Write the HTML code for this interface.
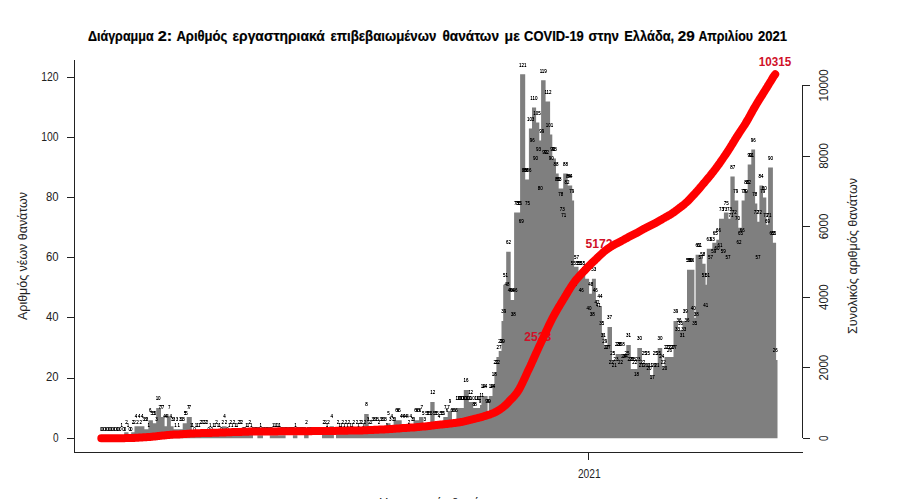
<!DOCTYPE html>
<html><head><meta charset="utf-8"><title>chart</title>
<style>html,body{margin:0;padding:0;background:#fff;}body{width:897px;height:499px;overflow:hidden;}svg{display:block;font-family:"Liberation Sans",sans-serif;}</style></head><body>
<svg width="897" height="499" viewBox="0 0 897 499">
<rect width="897" height="499" fill="#fff"/>
<g font-size="14.2" font-weight="bold" fill="#000" stroke="#000" stroke-width="0.2">
<text x="87.9" y="41.0" textLength="65.8" lengthAdjust="spacingAndGlyphs">Διάγραμμα</text>
<text x="157.7" y="41.0" textLength="14.5" lengthAdjust="spacingAndGlyphs">2:</text>
<text x="176.4" y="41.0" textLength="51.0" lengthAdjust="spacingAndGlyphs">Αριθμός</text>
<text x="232.5" y="41.0" textLength="92.3" lengthAdjust="spacingAndGlyphs">εργαστηριακά</text>
<text x="330.5" y="41.0" textLength="105.8" lengthAdjust="spacingAndGlyphs">επιβεβαιωμένων</text>
<text x="442.4" y="41.0" textLength="56.6" lengthAdjust="spacingAndGlyphs">θανάτων</text>
<text x="504.6" y="41.0" textLength="15.2" lengthAdjust="spacingAndGlyphs">με</text>
<text x="524.1" y="41.0" textLength="59.7" lengthAdjust="spacingAndGlyphs">COVID-19</text>
<text x="588.4" y="41.0" textLength="30.5" lengthAdjust="spacingAndGlyphs">στην</text>
<text x="624.3" y="41.0" textLength="49.9" lengthAdjust="spacingAndGlyphs">Ελλάδα,</text>
<text x="677.7" y="41.0" textLength="17.0" lengthAdjust="spacingAndGlyphs">29</text>
<text x="698.4" y="41.0" textLength="54.5" lengthAdjust="spacingAndGlyphs">Απριλίου</text>
<text x="758.0" y="41.0" textLength="29.1" lengthAdjust="spacingAndGlyphs">2021</text>
</g>
<polygon fill="#7f7f7f" points="99.0,438.2 99.0,438.2 124.2,438.2 124.2,432.2 128.5,432.2 128.5,435.2 131.2,435.2 131.2,432.2 134.5,432.2 134.5,426.2 144.4,426.2 144.4,429.2 148.4,429.2 148.4,420.2 152.9,420.2 152.9,423.2 156.2,423.2 156.2,408.1 161.0,408.1 161.0,417.1 164.6,417.1 164.6,426.2 166.9,426.2 166.9,417.1 170.8,417.1 170.8,426.2 173.6,426.2 173.6,429.2 182.7,429.2 182.7,423.2 186.7,423.2 186.7,417.1 191.8,417.1 191.8,432.2 222.0,432.2 222.0,426.2 226.6,426.2 226.6,432.2 253.0,432.2 253.0,438.2 257.4,438.2 257.4,435.2 263.0,435.2 263.0,438.2 269.8,438.2 269.8,435.2 285.6,435.2 285.6,438.2 292.9,438.2 292.9,435.2 297.4,435.2 297.4,438.2 304.1,438.2 304.1,432.2 308.6,432.2 308.6,438.2 322.0,438.2 322.0,432.2 329.4,432.2 329.4,426.2 333.9,426.2 333.9,438.2 336.0,438.2 336.0,432.2 364.2,432.2 364.2,414.1 368.7,414.1 368.7,429.2 386.0,429.2 386.0,423.2 390.5,423.2 390.5,426.2 393.6,426.2 393.6,420.2 401.7,420.2 401.7,426.2 413.5,426.2 413.5,420.2 419.0,420.2 419.0,417.1 423.4,417.1 423.4,423.2 428.4,423.2 428.4,423.2 430.3,423.2 430.3,402.1 434.6,402.1 434.6,423.2 439.6,423.2 439.6,423.2 443.3,423.2 443.3,417.1 447.7,417.1 447.7,411.1 452.0,411.1 452.0,420.2 456.4,420.2 456.4,408.1 463.8,408.1 463.8,390.1 468.8,390.1 468.8,402.1 473.2,402.1 473.2,408.1 480.0,408.1 480.0,405.1 481.4,405.1 481.4,396.1 487.6,396.1 487.6,411.1 488.8,411.1 488.8,396.1 492.5,396.1 492.5,384.1 494.4,384.1 494.4,372.0 496.4,372.0 496.4,357.0 498.7,357.0 498.7,351.0 501.5,351.0 501.5,320.9 503.2,320.9 503.2,284.8 506.2,284.8 506.2,251.7 510.7,251.7 510.7,299.9 514.1,299.9 514.1,212.6 520.1,212.6 520.1,74.3 525.2,74.3 525.2,179.6 528.9,179.6 528.9,128.4 532.0,128.4 532.0,107.4 536.1,107.4 536.1,122.4 539.3,122.4 539.3,140.5 541.1,140.5 541.1,80.3 545.6,80.3 545.6,101.4 550.1,101.4 550.1,134.4 552.3,134.4 552.3,158.5 556.0,158.5 556.0,173.5 558.7,173.5 558.7,188.6 563.2,188.6 563.2,173.5 567.7,173.5 567.7,185.6 572.2,185.6 572.2,200.6 574.1,200.6 574.1,266.8 578.5,266.8 578.5,272.8 585.2,272.8 585.2,278.8 589.1,278.8 589.1,293.8 591.9,293.8 591.9,278.8 595.9,278.8 595.9,299.9 597.4,299.9 597.4,305.9 601.9,305.9 601.9,332.9 604.1,332.9 604.1,345.0 607.5,345.0 607.5,326.9 612.0,326.9 612.0,360.0 615.6,360.0 615.6,354.0 621.8,354.0 621.8,354.0 626.3,354.0 626.3,345.0 630.8,345.0 630.8,369.0 637.3,369.0 637.3,348.0 642.0,348.0 642.0,363.0 650.0,363.0 650.0,375.0 653.2,375.0 653.2,363.0 657.7,363.0 657.7,348.0 662.2,348.0 662.2,366.0 664.5,366.0 664.5,357.0 673.5,357.0 673.5,320.9 678.0,320.9 678.0,329.9 682.6,329.9 682.6,320.9 687.0,320.9 687.0,269.8 694.4,269.8 694.4,317.9 695.6,317.9 695.6,254.7 702.4,254.7 702.4,263.8 705.6,263.8 705.6,284.8 706.8,284.8 706.8,248.7 712.3,248.7 712.3,242.7 716.3,242.7 716.3,239.7 719.0,239.7 719.0,218.7 723.9,218.7 723.9,212.6 728.4,212.6 728.4,218.7 730.4,218.7 730.4,176.6 734.7,176.6 734.7,200.6 738.3,200.6 738.3,227.7 741.6,227.7 741.6,200.6 744.6,200.6 744.6,191.6 747.7,191.6 747.7,164.5 751.3,164.5 751.3,149.5 755.1,149.5 755.1,203.6 757.3,203.6 757.3,221.7 759.4,221.7 759.4,185.6 763.0,185.6 763.0,197.6 766.3,197.6 766.3,224.7 768.1,224.7 768.1,167.5 772.9,167.5 772.9,242.7 776.1,242.7 776.1,360.0 777.5,360.0 777.5,438.2"/>
<defs><filter id="dk" x="0" y="0" width="1100" height="499" filterUnits="userSpaceOnUse" color-interpolation-filters="sRGB"><feComponentTransfer><feFuncA type="linear" slope="1.5" intercept="0"/></feComponentTransfer></filter></defs>
<g font-size="5.1" text-anchor="middle" fill="#000" filter="url(#dk)" transform="scale(0.88 1)">
<text x="115.1" y="430.83">0</text>
<text x="116.9" y="430.83">0</text>
<text x="118.7" y="430.83">0</text>
<text x="120.5" y="430.83">0</text>
<text x="122.3" y="430.83">0</text>
<text x="124.1" y="430.83">0</text>
<text x="125.9" y="430.83">0</text>
<text x="127.7" y="430.83">0</text>
<text x="129.5" y="430.83">0</text>
<text x="131.3" y="430.83">0</text>
<text x="133.1" y="430.83">0</text>
<text x="134.8" y="430.83">0</text>
<text x="136.6" y="430.83">0</text>
<text x="138.4" y="427.42">1</text>
<text x="140.2" y="430.83">0</text>
<text x="142.0" y="430.83">0</text>
<text x="143.8" y="424.42">2</text>
<text x="145.6" y="427.42">1</text>
<text x="147.4" y="430.83">0</text>
<text x="149.2" y="430.83">0</text>
<text x="151.0" y="424.42">2</text>
<text x="152.8" y="424.42">2</text>
<text x="154.6" y="418.40">4</text>
<text x="156.4" y="424.42">2</text>
<text x="158.2" y="418.40">4</text>
<text x="160.0" y="424.42">2</text>
<text x="161.7" y="418.40">4</text>
<text x="163.5" y="421.41">3</text>
<text x="165.3" y="421.41">3</text>
<text x="167.1" y="421.41">3</text>
<text x="168.9" y="427.42">1</text>
<text x="170.7" y="412.39">6</text>
<text x="172.5" y="415.39">5</text>
<text x="174.3" y="415.39">5</text>
<text x="176.1" y="415.39">5</text>
<text x="177.9" y="421.41">3</text>
<text x="179.7" y="400.36">10</text>
<text x="181.5" y="409.38">7</text>
<text x="183.3" y="409.38">7</text>
<text x="185.1" y="409.38">7</text>
<text x="186.9" y="418.40">4</text>
<text x="188.7" y="418.40">4</text>
<text x="190.4" y="418.40">4</text>
<text x="192.2" y="409.38">7</text>
<text x="194.0" y="418.40">4</text>
<text x="195.8" y="421.41">3</text>
<text x="197.6" y="421.41">3</text>
<text x="199.4" y="427.42">1</text>
<text x="201.2" y="421.41">3</text>
<text x="203.0" y="427.42">1</text>
<text x="204.8" y="421.41">3</text>
<text x="206.6" y="421.41">3</text>
<text x="208.4" y="421.41">3</text>
<text x="210.2" y="415.39">5</text>
<text x="212.0" y="415.39">5</text>
<text x="213.8" y="409.38">7</text>
<text x="215.6" y="409.38">7</text>
<text x="217.4" y="427.42">1</text>
<text x="219.1" y="427.42">1</text>
<text x="220.9" y="430.83">0</text>
<text x="222.7" y="427.42">1</text>
<text x="224.5" y="427.42">1</text>
<text x="226.3" y="427.42">1</text>
<text x="228.1" y="424.42">2</text>
<text x="229.9" y="424.42">2</text>
<text x="231.7" y="424.42">2</text>
<text x="233.5" y="424.42">2</text>
<text x="235.3" y="424.42">2</text>
<text x="237.1" y="430.83">0</text>
<text x="238.9" y="427.42">1</text>
<text x="240.7" y="430.83">0</text>
<text x="242.5" y="427.42">1</text>
<text x="244.3" y="427.42">1</text>
<text x="246.1" y="424.42">2</text>
<text x="247.8" y="427.42">1</text>
<text x="249.6" y="427.42">1</text>
<text x="251.4" y="430.83">0</text>
<text x="253.2" y="424.42">2</text>
<text x="255.0" y="418.40">4</text>
<text x="256.8" y="424.42">2</text>
<text x="258.6" y="430.83">0</text>
<text x="260.4" y="427.42">1</text>
<text x="262.2" y="424.42">2</text>
<text x="264.0" y="427.42">1</text>
<text x="265.8" y="424.42">2</text>
<text x="267.6" y="427.42">1</text>
<text x="269.4" y="427.42">1</text>
<text x="271.2" y="424.42">2</text>
<text x="273.0" y="424.42">2</text>
<text x="274.8" y="424.42">2</text>
<text x="276.5" y="430.83">0</text>
<text x="278.3" y="430.83">0</text>
<text x="280.1" y="427.42">1</text>
<text x="281.9" y="427.42">1</text>
<text x="283.7" y="424.42">2</text>
<text x="285.5" y="427.42">1</text>
<text x="287.3" y="430.83">0</text>
<text x="289.1" y="430.83">0</text>
<text x="290.9" y="430.83">0</text>
<text x="292.7" y="430.83">0</text>
<text x="294.5" y="430.83">0</text>
<text x="296.3" y="427.42">1</text>
<text x="298.1" y="430.83">0</text>
<text x="299.9" y="430.83">0</text>
<text x="301.7" y="430.83">0</text>
<text x="303.5" y="430.83">0</text>
<text x="305.2" y="430.83">0</text>
<text x="307.0" y="430.83">0</text>
<text x="308.8" y="430.83">0</text>
<text x="310.6" y="427.42">1</text>
<text x="312.4" y="427.42">1</text>
<text x="314.2" y="427.42">1</text>
<text x="316.0" y="427.42">1</text>
<text x="317.8" y="427.42">1</text>
<text x="319.6" y="430.83">0</text>
<text x="321.4" y="430.83">0</text>
<text x="323.2" y="430.83">0</text>
<text x="325.0" y="430.83">0</text>
<text x="326.8" y="430.83">0</text>
<text x="328.6" y="430.83">0</text>
<text x="330.4" y="430.83">0</text>
<text x="332.2" y="430.83">0</text>
<text x="333.9" y="430.83">0</text>
<text x="335.7" y="427.42">1</text>
<text x="337.5" y="430.83">0</text>
<text x="339.3" y="430.83">0</text>
<text x="341.1" y="430.83">0</text>
<text x="342.9" y="430.83">0</text>
<text x="344.7" y="430.83">0</text>
<text x="346.5" y="430.83">0</text>
<text x="348.3" y="424.42">2</text>
<text x="350.1" y="430.83">0</text>
<text x="351.9" y="430.83">0</text>
<text x="353.7" y="430.83">0</text>
<text x="355.5" y="430.83">0</text>
<text x="357.3" y="430.83">0</text>
<text x="359.1" y="430.83">0</text>
<text x="360.9" y="430.83">0</text>
<text x="362.6" y="430.83">0</text>
<text x="364.4" y="430.83">0</text>
<text x="366.2" y="430.83">0</text>
<text x="368.0" y="424.42">2</text>
<text x="369.8" y="424.42">2</text>
<text x="371.6" y="427.42">1</text>
<text x="373.4" y="424.42">2</text>
<text x="375.2" y="430.83">0</text>
<text x="377.0" y="418.40">4</text>
<text x="378.8" y="430.83">0</text>
<text x="380.6" y="430.83">0</text>
<text x="382.4" y="430.83">0</text>
<text x="384.2" y="424.42">2</text>
<text x="386.0" y="427.42">1</text>
<text x="387.8" y="427.42">1</text>
<text x="389.5" y="424.42">2</text>
<text x="391.3" y="427.42">1</text>
<text x="393.1" y="424.42">2</text>
<text x="394.9" y="427.42">1</text>
<text x="396.7" y="424.42">2</text>
<text x="398.5" y="427.42">1</text>
<text x="400.3" y="427.42">1</text>
<text x="402.1" y="424.42">2</text>
<text x="403.9" y="430.83">0</text>
<text x="405.7" y="424.42">2</text>
<text x="407.5" y="427.42">1</text>
<text x="409.3" y="424.42">2</text>
<text x="411.1" y="424.42">2</text>
<text x="412.9" y="427.42">1</text>
<text x="414.7" y="424.42">2</text>
<text x="416.5" y="406.37">8</text>
<text x="418.2" y="421.41">3</text>
<text x="420.0" y="424.42">2</text>
<text x="421.8" y="424.42">2</text>
<text x="423.6" y="421.41">3</text>
<text x="425.4" y="421.41">3</text>
<text x="427.2" y="421.41">3</text>
<text x="429.0" y="421.41">3</text>
<text x="430.8" y="424.42">2</text>
<text x="432.6" y="421.41">3</text>
<text x="434.4" y="421.41">3</text>
<text x="436.2" y="421.41">3</text>
<text x="438.0" y="421.41">3</text>
<text x="439.8" y="427.42">1</text>
<text x="441.6" y="415.39">5</text>
<text x="443.4" y="421.41">3</text>
<text x="445.2" y="418.40">4</text>
<text x="446.9" y="421.41">3</text>
<text x="448.7" y="421.41">3</text>
<text x="450.5" y="412.39">6</text>
<text x="452.3" y="412.39">6</text>
<text x="454.1" y="412.39">6</text>
<text x="455.9" y="418.40">4</text>
<text x="457.7" y="418.40">4</text>
<text x="459.5" y="418.40">4</text>
<text x="461.3" y="418.40">4</text>
<text x="463.1" y="418.40">4</text>
<text x="464.9" y="424.42">2</text>
<text x="466.7" y="418.40">4</text>
<text x="468.5" y="421.41">3</text>
<text x="470.3" y="421.41">3</text>
<text x="472.1" y="412.39">6</text>
<text x="473.9" y="412.39">6</text>
<text x="475.6" y="412.39">6</text>
<text x="477.4" y="412.39">6</text>
<text x="479.2" y="409.38">7</text>
<text x="481.0" y="415.39">5</text>
<text x="482.8" y="421.41">3</text>
<text x="484.6" y="415.39">5</text>
<text x="486.4" y="415.39">5</text>
<text x="488.2" y="415.39">5</text>
<text x="490.0" y="415.39">5</text>
<text x="491.8" y="394.34">12</text>
<text x="493.6" y="415.39">5</text>
<text x="495.4" y="415.39">5</text>
<text x="497.2" y="415.39">5</text>
<text x="499.0" y="418.40">4</text>
<text x="500.8" y="415.39">5</text>
<text x="502.6" y="415.39">5</text>
<text x="504.3" y="415.39">5</text>
<text x="506.1" y="409.38">7</text>
<text x="507.9" y="412.39">6</text>
<text x="509.7" y="409.38">7</text>
<text x="511.5" y="403.36">9</text>
<text x="513.3" y="412.39">6</text>
<text x="515.1" y="412.39">6</text>
<text x="516.9" y="412.39">6</text>
<text x="518.7" y="412.39">6</text>
<text x="520.5" y="400.36">10</text>
<text x="522.3" y="400.36">10</text>
<text x="524.1" y="400.36">10</text>
<text x="525.9" y="400.36">10</text>
<text x="527.7" y="400.36">10</text>
<text x="529.5" y="382.31">16</text>
<text x="531.3" y="400.36">10</text>
<text x="533.0" y="400.36">10</text>
<text x="534.8" y="394.34">12</text>
<text x="536.6" y="400.36">10</text>
<text x="538.4" y="406.37">8</text>
<text x="540.2" y="406.37">8</text>
<text x="542.0" y="400.36">10</text>
<text x="543.8" y="400.36">10</text>
<text x="545.6" y="403.36">9</text>
<text x="547.4" y="397.35">11</text>
<text x="549.2" y="388.33">14</text>
<text x="551.0" y="388.33">14</text>
<text x="552.8" y="403.36">9</text>
<text x="554.6" y="403.36">9</text>
<text x="556.4" y="403.36">9</text>
<text x="558.2" y="388.33">14</text>
<text x="560.0" y="388.33">14</text>
<text x="561.7" y="376.30">18</text>
<text x="563.5" y="364.27">22</text>
<text x="565.3" y="364.27">22</text>
<text x="567.1" y="349.23">27</text>
<text x="568.9" y="343.21">29</text>
<text x="570.7" y="343.21">29</text>
<text x="572.5" y="313.14">39</text>
<text x="574.3" y="277.05">51</text>
<text x="576.1" y="286.07">48</text>
<text x="577.9" y="243.97">62</text>
<text x="579.7" y="292.09">46</text>
<text x="581.5" y="292.09">46</text>
<text x="583.3" y="316.15">38</text>
<text x="585.1" y="292.09">46</text>
<text x="586.9" y="204.87">75</text>
<text x="588.6" y="204.87">75</text>
<text x="590.4" y="204.87">75</text>
<text x="592.2" y="222.92">69</text>
<text x="594.0" y="66.53">121</text>
<text x="595.8" y="171.79">86</text>
<text x="597.6" y="171.79">86</text>
<text x="599.4" y="204.87">75</text>
<text x="601.2" y="171.79">86</text>
<text x="603.0" y="120.66">103</text>
<text x="604.8" y="141.72">96</text>
<text x="606.6" y="99.61">110</text>
<text x="608.4" y="159.76">90</text>
<text x="610.2" y="114.65">105</text>
<text x="612.0" y="150.74">93</text>
<text x="613.8" y="189.83">80</text>
<text x="615.6" y="132.69">99</text>
<text x="617.3" y="72.54">119</text>
<text x="619.1" y="153.75">92</text>
<text x="620.9" y="153.75">92</text>
<text x="622.7" y="93.60">112</text>
<text x="624.5" y="126.68">101</text>
<text x="626.3" y="159.76">90</text>
<text x="628.1" y="150.74">93</text>
<text x="629.9" y="150.74">93</text>
<text x="631.7" y="165.78">88</text>
<text x="633.5" y="180.81">83</text>
<text x="635.3" y="180.81">83</text>
<text x="637.1" y="195.85">78</text>
<text x="638.9" y="210.89">73</text>
<text x="640.7" y="216.90">71</text>
<text x="642.5" y="165.78">88</text>
<text x="644.3" y="183.82">82</text>
<text x="646.0" y="177.81">84</text>
<text x="647.8" y="177.81">84</text>
<text x="649.6" y="192.84">79</text>
<text x="651.4" y="265.02">55</text>
<text x="653.2" y="286.07">48</text>
<text x="655.0" y="259.01">57</text>
<text x="656.8" y="265.02">55</text>
<text x="658.6" y="265.02">55</text>
<text x="660.4" y="292.09">46</text>
<text x="662.2" y="265.02">55</text>
<text x="664.0" y="271.04">53</text>
<text x="665.8" y="271.04">53</text>
<text x="667.6" y="271.04">53</text>
<text x="669.4" y="310.13">40</text>
<text x="671.2" y="286.07">48</text>
<text x="673.0" y="316.15">38</text>
<text x="674.7" y="271.04">53</text>
<text x="676.5" y="292.09">46</text>
<text x="678.3" y="304.12">42</text>
<text x="680.1" y="307.13">41</text>
<text x="681.9" y="298.10">44</text>
<text x="683.7" y="325.17">35</text>
<text x="685.5" y="337.20">31</text>
<text x="687.3" y="343.21">29</text>
<text x="689.1" y="349.23">27</text>
<text x="690.9" y="349.23">27</text>
<text x="692.7" y="319.15">37</text>
<text x="694.5" y="364.27">22</text>
<text x="696.3" y="355.24">25</text>
<text x="698.1" y="367.27">21</text>
<text x="699.9" y="361.26">23</text>
<text x="701.7" y="346.22">28</text>
<text x="703.4" y="346.22">28</text>
<text x="705.2" y="364.27">22</text>
<text x="707.0" y="346.22">28</text>
<text x="708.8" y="358.25">24</text>
<text x="710.6" y="358.25">24</text>
<text x="712.4" y="355.24">25</text>
<text x="714.2" y="337.20">31</text>
<text x="716.0" y="361.26">23</text>
<text x="717.8" y="361.26">23</text>
<text x="719.6" y="361.26">23</text>
<text x="721.4" y="364.27">22</text>
<text x="723.2" y="376.30">18</text>
<text x="725.0" y="361.26">23</text>
<text x="726.8" y="340.21">30</text>
<text x="728.6" y="367.27">21</text>
<text x="730.4" y="364.27">22</text>
<text x="732.1" y="355.24">25</text>
<text x="733.9" y="367.27">21</text>
<text x="735.7" y="355.24">25</text>
<text x="737.5" y="370.28">20</text>
<text x="739.3" y="367.27">21</text>
<text x="741.1" y="379.30">17</text>
<text x="742.9" y="367.27">21</text>
<text x="744.7" y="355.24">25</text>
<text x="746.5" y="367.27">21</text>
<text x="748.3" y="355.24">25</text>
<text x="750.1" y="340.21">30</text>
<text x="751.9" y="358.25">24</text>
<text x="753.7" y="364.27">22</text>
<text x="755.5" y="370.28">20</text>
<text x="757.3" y="349.23">27</text>
<text x="759.1" y="349.23">27</text>
<text x="760.8" y="352.24">26</text>
<text x="762.6" y="349.23">27</text>
<text x="764.4" y="349.23">27</text>
<text x="766.2" y="349.23">27</text>
<text x="768.0" y="313.14">39</text>
<text x="769.8" y="331.18">33</text>
<text x="771.6" y="322.16">36</text>
<text x="773.4" y="325.17">35</text>
<text x="775.2" y="337.20">31</text>
<text x="777.0" y="331.18">33</text>
<text x="778.8" y="313.14">39</text>
<text x="780.6" y="322.16">36</text>
<text x="782.4" y="262.01">56</text>
<text x="784.2" y="262.01">56</text>
<text x="786.0" y="262.01">56</text>
<text x="787.8" y="310.13">40</text>
<text x="789.5" y="325.17">35</text>
<text x="791.3" y="316.15">38</text>
<text x="793.1" y="246.98">61</text>
<text x="794.9" y="246.98">61</text>
<text x="796.7" y="259.01">57</text>
<text x="798.5" y="256.00">58</text>
<text x="800.3" y="277.05">51</text>
<text x="802.1" y="307.13">41</text>
<text x="803.9" y="277.05">51</text>
<text x="805.7" y="240.96">63</text>
<text x="807.5" y="259.01">57</text>
<text x="809.3" y="240.96">63</text>
<text x="811.1" y="252.99">59</text>
<text x="812.9" y="234.95">65</text>
<text x="814.7" y="249.98">60</text>
<text x="816.4" y="231.94">66</text>
<text x="818.2" y="246.98">61</text>
<text x="820.0" y="210.89">73</text>
<text x="821.8" y="252.99">59</text>
<text x="823.6" y="210.89">73</text>
<text x="825.4" y="204.87">75</text>
<text x="827.2" y="259.01">57</text>
<text x="829.0" y="210.89">73</text>
<text x="830.8" y="216.90">71</text>
<text x="832.6" y="168.78">87</text>
<text x="834.4" y="213.89">72</text>
<text x="836.2" y="192.84">79</text>
<text x="838.0" y="219.91">70</text>
<text x="839.8" y="243.97">62</text>
<text x="841.6" y="234.95">65</text>
<text x="843.4" y="231.94">66</text>
<text x="845.1" y="192.84">79</text>
<text x="846.9" y="192.84">79</text>
<text x="848.7" y="183.82">82</text>
<text x="850.5" y="183.82">82</text>
<text x="852.3" y="156.75">91</text>
<text x="854.1" y="156.75">91</text>
<text x="855.9" y="141.72">96</text>
<text x="857.7" y="195.85">78</text>
<text x="859.5" y="213.89">72</text>
<text x="861.3" y="259.01">57</text>
<text x="863.1" y="213.89">72</text>
<text x="864.9" y="177.81">84</text>
<text x="866.7" y="192.84">79</text>
<text x="868.5" y="189.83">80</text>
<text x="870.3" y="216.90">71</text>
<text x="872.1" y="222.92">69</text>
<text x="873.8" y="216.90">71</text>
<text x="875.6" y="159.76">90</text>
<text x="877.4" y="234.95">65</text>
<text x="879.2" y="234.95">65</text>
<text x="881.0" y="352.24">26</text>
</g>
<g font-size="12.8" font-weight="bold" fill="#d01028" text-anchor="middle">
<text x="537.8" y="341.1" textLength="27.0" lengthAdjust="spacingAndGlyphs">2523</text>
<text x="599.0" y="248.1" textLength="27.0" lengthAdjust="spacingAndGlyphs">5172</text>
<text x="775.0" y="66.0" textLength="32.4" lengthAdjust="spacingAndGlyphs">10315</text>
</g>
<polyline fill="none" stroke="#ff0000" stroke-width="8" stroke-linecap="round" stroke-linejoin="round" points="101.3,438.2 102.3,438.2 103.3,438.2 104.3,438.2 105.3,438.2 106.3,438.2 107.3,438.2 108.3,438.2 109.3,438.2 110.3,438.2 111.3,438.2 112.3,438.2 113.3,438.2 114.3,438.2 115.3,438.2 116.3,438.2 117.3,438.2 118.3,438.2 119.3,438.2 120.3,438.2 121.3,438.2 122.3,438.2 123.3,438.2 124.3,438.2 125.3,438.1 126.3,438.1 127.3,438.1 128.3,438.1 129.3,438.1 130.3,438.0 131.3,438.0 132.3,438.0 133.3,437.9 134.3,437.9 135.3,437.8 136.3,437.8 137.3,437.7 138.3,437.7 139.3,437.6 140.3,437.5 141.3,437.5 142.3,437.4 143.3,437.3 144.3,437.3 145.3,437.2 146.3,437.2 147.3,437.1 148.3,437.0 149.3,436.9 150.3,436.9 151.3,436.8 152.3,436.7 153.3,436.6 154.3,436.5 155.3,436.4 156.3,436.3 157.3,436.2 158.3,436.0 159.3,435.9 160.3,435.8 161.3,435.7 162.3,435.6 163.3,435.5 164.3,435.4 165.3,435.3 166.3,435.2 167.3,435.1 168.3,435.0 169.3,434.9 170.3,434.8 171.3,434.8 172.3,434.7 173.3,434.6 174.3,434.6 175.3,434.5 176.3,434.5 177.3,434.4 178.3,434.4 179.3,434.4 180.3,434.3 181.3,434.3 182.3,434.2 183.3,434.1 184.3,434.1 185.3,434.0 186.3,433.9 187.3,433.8 188.3,433.8 189.3,433.7 190.3,433.6 191.3,433.5 192.3,433.5 193.3,433.4 194.3,433.4 195.3,433.3 196.3,433.3 197.3,433.3 198.3,433.2 199.3,433.2 200.3,433.2 201.3,433.1 202.3,433.1 203.3,433.1 204.3,433.1 205.3,433.0 206.3,433.0 207.3,433.0 208.3,432.9 209.3,432.9 210.3,432.9 211.3,432.9 212.3,432.8 213.3,432.8 214.3,432.8 215.3,432.7 216.3,432.7 217.3,432.7 218.3,432.7 219.3,432.6 220.3,432.6 221.3,432.6 222.3,432.5 223.3,432.5 224.3,432.4 225.3,432.4 226.3,432.3 227.3,432.3 228.3,432.2 229.3,432.2 230.3,432.2 231.3,432.2 232.3,432.1 233.3,432.1 234.3,432.1 235.3,432.0 236.3,432.0 237.3,432.0 238.3,432.0 239.3,431.9 240.3,431.9 241.3,431.9 242.3,431.8 243.3,431.8 244.3,431.8 245.3,431.8 246.3,431.7 247.3,431.7 248.3,431.7 249.3,431.6 250.3,431.6 251.3,431.6 252.3,431.6 253.3,431.6 254.3,431.6 255.3,431.5 256.3,431.5 257.3,431.5 258.3,431.5 259.3,431.5 260.3,431.5 261.3,431.5 262.3,431.5 263.3,431.5 264.3,431.5 265.3,431.5 266.3,431.5 267.3,431.5 268.3,431.5 269.3,431.5 270.3,431.4 271.3,431.4 272.3,431.4 273.3,431.4 274.3,431.4 275.3,431.4 276.3,431.4 277.3,431.4 278.3,431.3 279.3,431.3 280.3,431.3 281.3,431.3 282.3,431.3 283.3,431.3 284.3,431.3 285.3,431.3 286.3,431.3 287.3,431.3 288.3,431.3 289.3,431.3 290.3,431.3 291.3,431.3 292.3,431.3 293.3,431.3 294.3,431.3 295.3,431.2 296.3,431.2 297.3,431.2 298.3,431.2 299.3,431.2 300.3,431.2 301.3,431.2 302.3,431.2 303.3,431.2 304.3,431.2 305.3,431.2 306.3,431.2 307.3,431.2 308.3,431.2 309.3,431.2 310.3,431.2 311.3,431.2 312.3,431.1 313.3,431.1 314.3,431.1 315.3,431.1 316.3,431.1 317.3,431.1 318.3,431.1 319.3,431.1 320.3,431.1 321.3,431.1 322.3,431.1 323.3,431.1 324.3,431.1 325.3,431.1 326.3,431.1 327.3,431.0 328.3,431.0 329.3,431.0 330.3,431.0 331.3,430.9 332.3,430.9 333.3,430.9 334.3,430.9 335.3,430.9 336.3,430.8 337.3,430.8 338.3,430.8 339.3,430.8 340.3,430.8 341.3,430.8 342.3,430.7 343.3,430.7 344.3,430.7 345.3,430.7 346.3,430.7 347.3,430.7 348.3,430.6 349.3,430.6 350.3,430.6 351.3,430.6 352.3,430.6 353.3,430.6 354.3,430.5 355.3,430.5 356.3,430.5 357.3,430.5 358.3,430.5 359.3,430.4 360.3,430.4 361.3,430.4 362.3,430.4 363.3,430.3 364.3,430.3 365.3,430.3 366.3,430.2 367.3,430.2 368.3,430.1 369.3,430.1 370.3,430.0 371.3,430.0 372.3,429.9 373.3,429.9 374.3,429.8 375.3,429.8 376.3,429.7 377.3,429.7 378.3,429.7 379.3,429.6 380.3,429.6 381.3,429.5 382.3,429.5 383.3,429.4 384.3,429.4 385.3,429.3 386.3,429.3 387.3,429.2 388.3,429.2 389.3,429.1 390.3,429.0 391.3,429.0 392.3,428.9 393.3,428.8 394.3,428.7 395.3,428.7 396.3,428.6 397.3,428.5 398.3,428.4 399.3,428.4 400.3,428.3 401.3,428.2 402.3,428.1 403.3,428.1 404.3,428.0 405.3,427.9 406.3,427.9 407.3,427.8 408.3,427.8 409.3,427.7 410.3,427.6 411.3,427.6 412.3,427.5 413.3,427.4 414.3,427.4 415.3,427.3 416.3,427.2 417.3,427.1 418.3,427.0 419.3,426.9 420.3,426.8 421.3,426.7 422.3,426.6 423.3,426.5 424.3,426.4 425.3,426.4 426.3,426.3 427.3,426.2 428.3,426.1 429.3,426.0 430.3,425.8 431.3,425.7 432.3,425.5 433.3,425.4 434.3,425.3 435.3,425.1 436.3,425.0 437.3,424.9 438.3,424.8 439.3,424.7 440.3,424.6 441.3,424.5 442.3,424.4 443.3,424.3 444.3,424.2 445.3,424.1 446.3,424.0 447.3,423.9 448.3,423.8 449.3,423.6 450.3,423.5 451.3,423.4 452.3,423.3 453.3,423.1 454.3,423.0 455.3,422.9 456.3,422.8 457.3,422.6 458.3,422.5 459.3,422.3 460.3,422.2 461.3,422.0 462.3,421.8 463.3,421.6 464.3,421.4 465.3,421.2 466.3,420.9 467.3,420.7 468.3,420.4 469.3,420.2 470.3,419.9 471.3,419.7 472.3,419.4 473.3,419.2 474.3,418.9 475.3,418.6 476.3,418.4 477.3,418.2 478.3,417.9 479.3,417.6 480.3,417.4 481.3,417.1 482.3,416.8 483.3,416.5 484.3,416.2 485.3,415.9 486.3,415.6 487.3,415.2 488.3,414.9 489.3,414.6 490.3,414.3 491.3,413.9 492.3,413.5 493.3,413.1 494.3,412.7 495.3,412.2 496.3,411.6 497.3,411.1 498.3,410.5 499.3,409.9 500.3,409.2 501.3,408.5 502.3,407.8 503.3,407.0 504.3,406.2 505.3,405.3 506.3,404.3 507.3,403.3 508.3,402.3 509.3,401.2 510.3,400.2 511.3,399.2 512.3,398.2 513.3,397.1 514.3,396.0 515.3,394.8 516.3,393.6 517.3,392.3 518.3,390.8 519.3,389.1 520.3,387.3 521.3,385.3 522.3,383.2 523.3,381.1 524.3,379.0 525.3,376.8 526.3,374.6 527.3,372.4 528.3,370.3 529.3,368.2 530.3,366.1 531.3,364.0 532.3,361.7 533.3,359.5 534.3,357.2 535.3,355.0 536.3,352.7 537.3,350.6 538.3,348.4 539.3,346.2 540.3,344.1 541.3,341.9 542.3,339.8 543.3,337.6 544.3,335.4 545.3,333.2 546.3,331.0 547.3,328.8 548.3,326.6 549.3,324.5 550.3,322.5 551.3,320.5 552.3,318.5 553.3,316.6 554.3,314.8 555.3,313.0 556.3,311.2 557.3,309.5 558.3,307.8 559.3,306.1 560.3,304.5 561.3,302.8 562.3,301.2 563.3,299.5 564.3,297.9 565.3,296.2 566.3,294.6 567.3,292.9 568.3,291.2 569.3,289.6 570.3,288.0 571.3,286.4 572.3,284.9 573.3,283.5 574.3,282.1 575.3,280.8 576.3,279.5 577.3,278.4 578.3,277.2 579.3,276.1 580.3,275.1 581.3,274.0 582.3,272.9 583.3,271.9 584.3,270.8 585.3,269.8 586.3,268.7 587.3,267.7 588.3,266.7 589.3,265.7 590.3,264.7 591.3,263.7 592.3,262.7 593.3,261.7 594.3,260.8 595.3,259.8 596.3,258.9 597.3,257.9 598.3,256.9 599.3,256.0 600.3,255.0 601.3,254.1 602.3,253.2 603.3,252.3 604.3,251.4 605.3,250.6 606.3,249.8 607.3,249.1 608.3,248.4 609.3,247.7 610.3,247.1 611.3,246.5 612.3,245.9 613.3,245.3 614.3,244.7 615.3,244.2 616.3,243.7 617.3,243.2 618.3,242.6 619.3,242.1 620.3,241.6 621.3,241.1 622.3,240.5 623.3,240.0 624.3,239.4 625.3,238.9 626.3,238.3 627.3,237.8 628.3,237.2 629.3,236.7 630.3,236.2 631.3,235.7 632.3,235.2 633.3,234.7 634.3,234.2 635.3,233.7 636.3,233.2 637.3,232.6 638.3,232.1 639.3,231.5 640.3,230.9 641.3,230.4 642.3,229.8 643.3,229.2 644.3,228.7 645.3,228.1 646.3,227.6 647.3,227.1 648.3,226.6 649.3,226.1 650.3,225.6 651.3,225.1 652.3,224.6 653.3,224.1 654.3,223.6 655.3,223.1 656.3,222.6 657.3,222.0 658.3,221.4 659.3,220.9 660.3,220.3 661.3,219.7 662.3,219.1 663.3,218.5 664.3,218.0 665.3,217.4 666.3,216.8 667.3,216.3 668.3,215.7 669.3,215.2 670.3,214.6 671.3,214.0 672.3,213.3 673.3,212.6 674.3,211.9 675.3,211.2 676.3,210.4 677.3,209.7 678.3,208.9 679.3,208.1 680.3,207.4 681.3,206.6 682.3,205.9 683.3,205.1 684.3,204.3 685.3,203.4 686.3,202.5 687.3,201.6 688.3,200.6 689.3,199.6 690.3,198.5 691.3,197.4 692.3,196.4 693.3,195.3 694.3,194.2 695.3,193.1 696.3,192.0 697.3,190.9 698.3,189.7 699.3,188.6 700.3,187.4 701.3,186.2 702.3,185.0 703.3,183.8 704.3,182.7 705.3,181.5 706.3,180.3 707.3,179.1 708.3,177.9 709.3,176.7 710.3,175.5 711.3,174.2 712.3,172.9 713.3,171.7 714.3,170.4 715.3,169.1 716.3,167.7 717.3,166.4 718.3,165.0 719.3,163.7 720.3,162.3 721.3,160.8 722.3,159.4 723.3,157.9 724.3,156.4 725.3,155.0 726.3,153.5 727.3,152.0 728.3,150.5 729.3,148.9 730.3,147.3 731.3,145.7 732.3,144.1 733.3,142.4 734.3,140.8 735.3,139.1 736.3,137.5 737.3,136.0 738.3,134.5 739.3,132.9 740.3,131.4 741.3,129.9 742.3,128.4 743.3,126.9 744.3,125.4 745.3,123.8 746.3,122.1 747.3,120.4 748.3,118.7 749.3,116.9 750.3,115.1 751.3,113.3 752.3,111.5 753.3,109.6 754.3,107.9 755.3,106.2 756.3,104.5 757.3,102.8 758.3,101.2 759.3,99.5 760.3,98.0 761.3,96.4 762.3,94.8 763.3,93.2 764.3,91.6 765.3,90.0 766.3,88.4 767.3,86.8 768.3,85.1 769.3,83.5 770.3,81.9 771.3,80.3 772.3,78.6 773.3,76.9 774.3,75.5 775.2,74.3 775.2,74.3"/>
<g stroke="#222" stroke-width="1" fill="none" shape-rendering="crispEdges">
<path d="M74.5 59.5 V452.5 H803"/>
<path d="M802.5 85.4 V438.2"/>
<path d="M67 438.2 H74.5"/>
<path d="M67 378.1 H74.5"/>
<path d="M67 317.9 H74.5"/>
<path d="M67 257.8 H74.5"/>
<path d="M67 197.6 H74.5"/>
<path d="M67 137.5 H74.5"/>
<path d="M67 77.3 H74.5"/>
<path d="M802.5 438.2 H809.5"/>
<path d="M802.5 367.6 H809.5"/>
<path d="M802.5 297.1 H809.5"/>
<path d="M802.5 226.5 H809.5"/>
<path d="M802.5 156.0 H809.5"/>
<path d="M802.5 85.4 H809.5"/>
<path d="M588.8 452.5 V459.5"/>
</g>
<g font-size="12" fill="#222" text-anchor="end">
<text x="58.6" y="441.5" textLength="5.6" lengthAdjust="spacingAndGlyphs">0</text>
<text x="58.6" y="381.4" textLength="12.6" lengthAdjust="spacingAndGlyphs">20</text>
<text x="58.6" y="321.2" textLength="12.6" lengthAdjust="spacingAndGlyphs">40</text>
<text x="58.6" y="261.1" textLength="12.6" lengthAdjust="spacingAndGlyphs">60</text>
<text x="58.6" y="200.9" textLength="12.6" lengthAdjust="spacingAndGlyphs">80</text>
<text x="58.6" y="140.8" textLength="17.3" lengthAdjust="spacingAndGlyphs">100</text>
<text x="58.6" y="80.6" textLength="17.3" lengthAdjust="spacingAndGlyphs">120</text>
</g>
<g font-size="12" fill="#222" text-anchor="middle">
<text transform="translate(828,438.2) rotate(-90)" textLength="5.5" lengthAdjust="spacingAndGlyphs">0</text>
<text transform="translate(828,367.6) rotate(-90)" textLength="25.6" lengthAdjust="spacingAndGlyphs">2000</text>
<text transform="translate(828,297.1) rotate(-90)" textLength="25.6" lengthAdjust="spacingAndGlyphs">4000</text>
<text transform="translate(828,226.5) rotate(-90)" textLength="25.6" lengthAdjust="spacingAndGlyphs">6000</text>
<text transform="translate(828,156.0) rotate(-90)" textLength="25.6" lengthAdjust="spacingAndGlyphs">8000</text>
<text transform="translate(828,85.4) rotate(-90)" textLength="32.0" lengthAdjust="spacingAndGlyphs">10000</text>
</g>
<text x="589.3" y="477.7" font-size="12" fill="#222" text-anchor="middle" textLength="22.7" lengthAdjust="spacingAndGlyphs">2021</text>
<g font-size="12.5" fill="#222" text-anchor="middle">
<text transform="translate(27.2,256) rotate(-90)" textLength="128" lengthAdjust="spacingAndGlyphs">Αριθμός νέων θανάτων</text>
<text transform="translate(857.2,256) rotate(-90)" textLength="156" lengthAdjust="spacingAndGlyphs">Συνολικός αριθμός θανάτων</text>
<text x="439.3" y="506.6" textLength="120.6" lengthAdjust="spacingAndGlyphs">Ημερομηνία θανάτου</text>
</g>
</svg></body></html>
